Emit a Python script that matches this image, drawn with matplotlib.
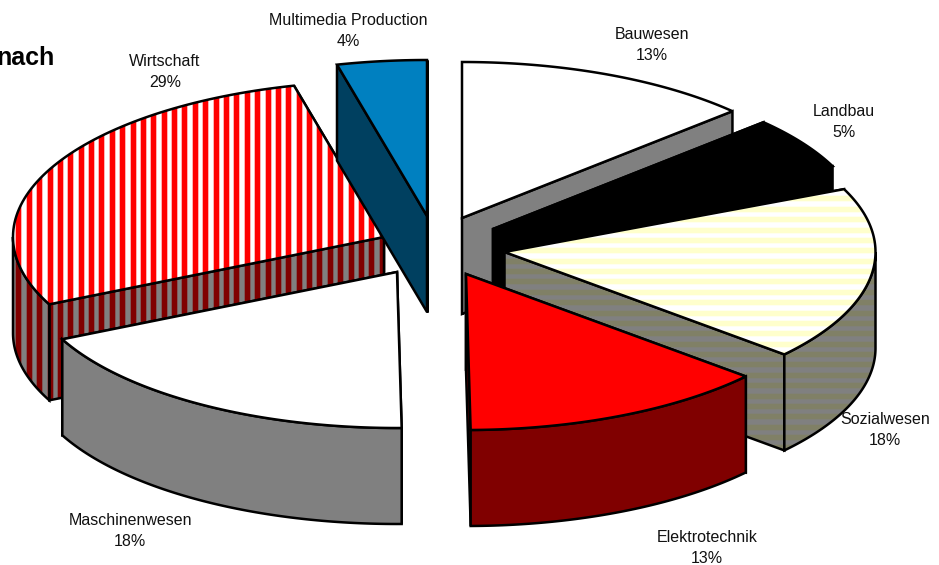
import numpy as np
import matplotlib
matplotlib.use("Agg")
import matplotlib.pyplot as plt
from matplotlib.patches import Polygon

plt.rcParams['font.family'] = ['Liberation Sans', 'DejaVu Sans']

categories = ["Bauwesen", "Landbau", "Sozialwesen", "Elektrotechnik",
              "Maschinenwesen", "Wirtschaft", "Multimedia Production"]
shares = [13.0, 5.4, 18.0, 13.4, 18.1, 28.2, 3.9]
percent_labels = ["13%", "5%", "18%", "13%", "18%", "29%", "4%"]

# layout and style
RX, RY, DEPTH = 371.0, 156.0, 96.0
apex = {"Bauwesen": (462, 218), "Landbau": (493, 229), "Sozialwesen": (504.5, 252),
        "Elektrotechnik": (466, 274), "Maschinenwesen": (397, 272),
        "Wirtschaft": (384, 237), "Multimedia Production": (427, 216)}
label_pos = {"Bauwesen": (652, 45), "Landbau": (844, 122), "Sozialwesen": (885, 430),
             "Elektrotechnik": (707, 548), "Maschinenwesen": (130, 531),
             "Wirtschaft": (165, 72), "Multimedia Production": (348, 31)}
style = {
    "Bauwesen": dict(top="#FFFFFF", side="#808080"),
    "Landbau": dict(top="#000000", side="#000000"),
    "Sozialwesen": dict(top="#FFFFFF", side="#808080", stripe="h",
                        top_s="#FFFFCC", side_s="#808066"),
    "Elektrotechnik": dict(top="#FF0000", side="#800000"),
    "Maschinenwesen": dict(top="#FFFFFF", side="#808080"),
    "Wirtschaft": dict(top="#FFFFFF", side="#808080", stripe="v",
                       top_s="#FF0000", side_s="#800000"),
    "Multimedia Production": dict(top="#0080C0", side="#004060"),
}
draw_order = ["Bauwesen", "Landbau", "Sozialwesen", "Elektrotechnik",
              "Wirtschaft", "Multimedia Production", "Maschinenwesen"]
LW = 1.8
STEP = 10.38

fig = plt.figure(figsize=(9.39, 5.65), dpi=100)
ax = fig.add_axes([0, 0, 1, 1])
ax.set_xlim(0, 939)
ax.set_ylim(565, 0)
ax.axis("off")

edges = np.concatenate([[0], np.cumsum(shares)]) * 3.6
span = {c: (edges[i], edges[i + 1]) for i, c in enumerate(categories)}


def arc(cat, a0, a1, dy=0.0):
    cx, cy = apex[cat]
    t = np.radians(np.linspace(a0, a1, 80))
    return np.column_stack([cx + RX * np.sin(t), cy - RY * np.cos(t) + dy])


z = [2]


def face(pts, color, cat, which):
    st = style[cat]
    z[0] += 1
    fill = Polygon(pts, closed=True, fc=color, ec="none", zorder=z[0])
    ax.add_patch(fill)
    kind = st.get("stripe")
    if kind:
        col = st[which + "_s"]
        for width, alpha in ((7.0, 0.3), (5.0, 1.0)):
            z[0] += 0.01
            if kind == "v":
                c = ax.vlines(np.arange(8.0, 400.0, STEP), 0, 565, colors=col,
                              lw=width * 0.72, alpha=alpha, zorder=z[0])
            else:
                c = ax.hlines(np.arange(188.0, 460.0, STEP), 480, 900, colors=col,
                              lw=width * 0.72, alpha=alpha, zorder=z[0])
            c.set_clip_path(fill)
    z[0] += 0.5
    ax.add_patch(Polygon(pts, closed=True, fc="none", ec="black", lw=LW,
                         joinstyle="miter", zorder=z[0]))


for cat in draw_order:
    a0, a1 = span[cat]
    st = style[cat]
    top_arc = arc(cat, a0, a1)
    ap = np.array(apex[cat], float)
    # radial cut faces: the one facing the viewer goes last
    ends = (top_arc[0], top_arc[-1]) if a0 < 180 else (top_arc[-1], top_arc[0])
    for p in ends:
        pts = np.array([ap, p, p + [0, DEPTH], ap + [0, DEPTH]])
        face(pts, st["side"], cat, "side")
    # outer wall, the front half only
    w0, w1 = max(a0, 90), min(a1, 270)
    if w1 > w0:
        upper = arc(cat, w0, w1)
        lower = arc(cat, w0, w1, DEPTH)
        face(np.vstack([upper, lower[::-1]]), st["side"], cat, "side")
    # top surface
    face(np.vstack([ap, top_arc]), st["top"], cat, "top")

for cat, pct in zip(categories, percent_labels):
    x, y = label_pos[cat]
    ax.text(x, y, f"{cat}\n{pct}", ha="center", va="center", fontsize=11.5,
            linespacing=1.52, color="#111111", zorder=100)

ax.text(54.5, 58, "nach", ha="right", va="center", fontsize=18,
        fontweight="bold", color="black", zorder=100)

fig.savefig("out.png", dpi=100)
